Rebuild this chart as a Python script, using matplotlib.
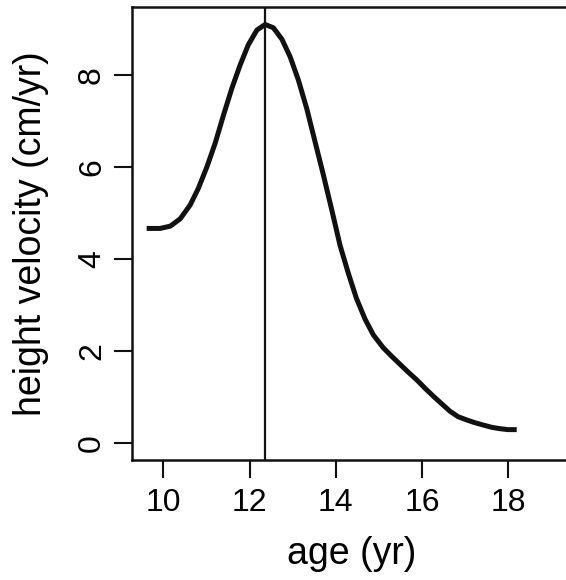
import numpy as np
import matplotlib
matplotlib.use("Agg")
import matplotlib.pyplot as plt

# グラフの書式設定 ---------------------------------------------------------
plt.rcParams["font.family"] = ["Liberation Sans", "DejaVu Sans"]
plt.rcParams["xtick.direction"] = "out"
plt.rcParams["ytick.direction"] = "out"
plt.rcParams["axes.linewidth"] = 1.8

# data ----------------------------------------------------------------------
age = [9.61, 9.92, 10.16, 10.39, 10.62, 10.81, 11.01, 11.20, 11.39, 11.59,
       11.78, 11.97, 12.17, 12.36, 12.55, 12.75, 12.94, 13.13, 13.33, 13.52,
       13.71, 13.90, 14.10, 14.29, 14.48, 14.68, 14.87, 15.10, 15.29, 15.49,
       15.68, 15.88, 16.07, 16.26, 16.46, 16.65, 16.84, 17.04, 17.23, 17.42,
       17.62, 17.81, 18.00, 18.20]
velocity = [4.67, 4.67, 4.72, 4.88, 5.18, 5.54, 6.01, 6.52, 7.12, 7.72,
            8.22, 8.66, 8.98, 9.10, 9.03, 8.78, 8.40, 7.90, 7.26, 6.55,
            5.84, 5.10, 4.30, 3.70, 3.15, 2.70, 2.36, 2.08, 1.90, 1.72,
            1.55, 1.38, 1.20, 1.03, 0.86, 0.70, 0.58, 0.51, 0.45, 0.40,
            0.35, 0.32, 0.30, 0.30]
peak_age = 12.36

x_ticks = [10, 12, 14, 16, 18]
y_ticks = [0, 2, 4, 6, 8]

fig = plt.figure(figsize=(5.66, 5.8), dpi=100)
ax = fig.add_axes([132 / 566, 120 / 580, 439 / 566, 453 / 580])

ax.plot(age, velocity, color="#111111", lw=3.6, solid_capstyle="butt",
        solid_joinstyle="round")
ax.axvline(peak_age, color="#111111", lw=1.6)

ax.set_xlim(9.27, 19.46)
ax.set_ylim(-0.36, 9.48)
ax.set_xticks(x_ticks)
ax.set_yticks(y_ticks)
ax.tick_params(axis="both", length=13, width=1.5, labelsize=23, color="#111111")
ax.tick_params(axis="x", pad=7)
ax.tick_params(axis="y", pad=5)
for t in ax.get_yticklabels():
    t.set_rotation(90)
    t.set_va("center")

ax.set_xlabel("age (yr)", fontsize=27)
ax.set_ylabel("height velocity (cm/yr)", fontsize=27)
ax.xaxis.set_label_coords(0.5, -0.168)
ax.yaxis.set_label_coords(-0.19, 0.5)

for s in ax.spines.values():
    s.set_color("#111111")

fig.savefig("out.png", dpi=100)
